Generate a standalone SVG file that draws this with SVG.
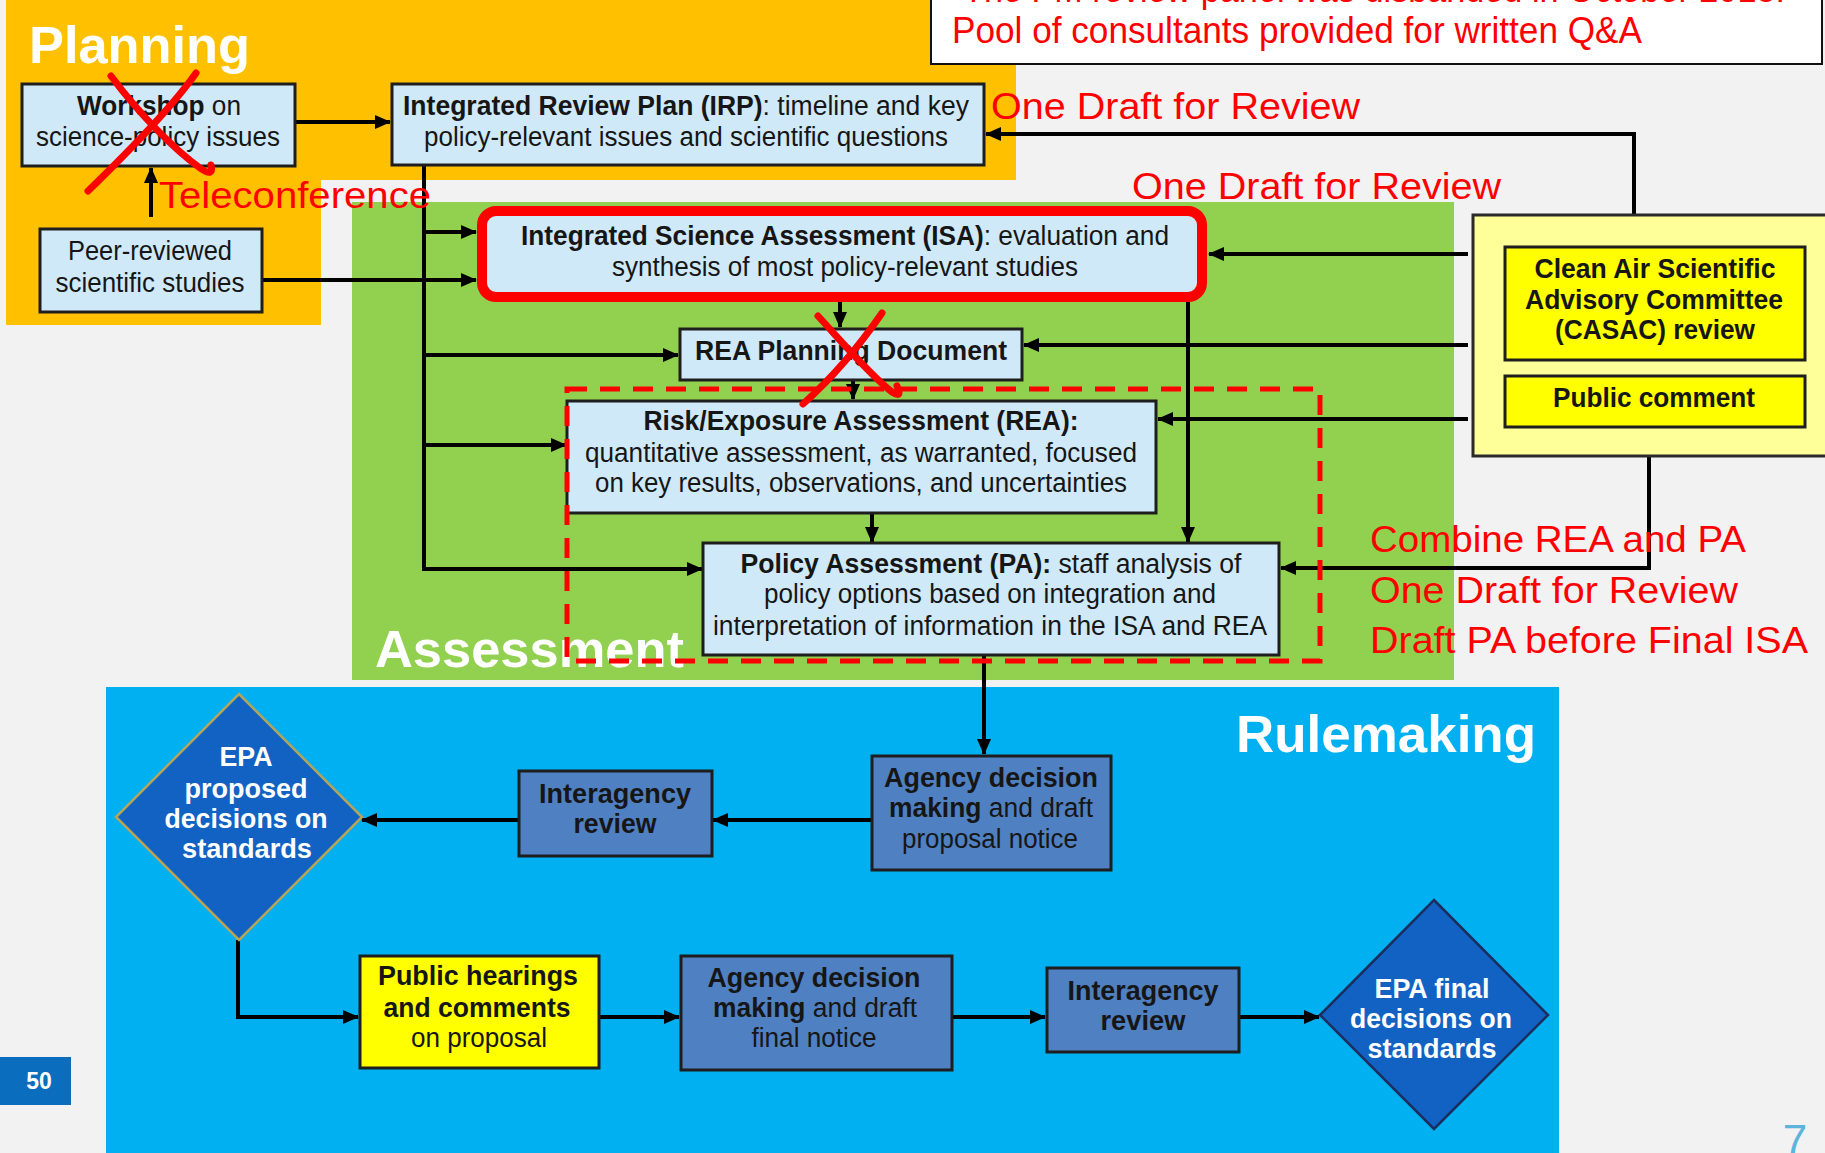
<svg xmlns="http://www.w3.org/2000/svg" width="1825" height="1153" viewBox="0 0 1825 1153">
<defs>
<style>
.box{stroke:#1e1e1e;stroke-width:3}
.lb{fill:#cfe9f8}
.sb{fill:#4f80c2}
.yl{fill:#ffff00}
.t{font-family:"Liberation Sans Narrow","Liberation Sans",Arial,sans-serif;font-size:27px;fill:#161616;text-anchor:middle}
.b{font-weight:bold}
.w{fill:#ffffff}
.hd{font-family:"Liberation Sans",Arial,sans-serif;font-weight:bold;font-size:52px;fill:#ffffff}
.red{font-family:"Liberation Sans",Arial,sans-serif;font-size:37px;fill:#ff0000}
.conn{stroke:#000;stroke-width:4;fill:none}
.x{stroke:#ff0000;stroke-width:7;fill:none;stroke-linecap:round;stroke-linejoin:round}
</style>
<marker id="ah" markerUnits="userSpaceOnUse" markerWidth="16" markerHeight="14" viewBox="0 0 16 14" refX="15" refY="7" orient="auto">
<path d="M0,0 L16,7 L0,14 z" fill="#000"/>
</marker>
</defs>
<rect x="0" y="0" width="1825" height="1153" fill="#f2f2f2"/>

<g id="panels">
<path d="M6,0 H1016 V180 H321 V325 H6 Z" fill="#ffc000"/>
<rect x="352" y="202" width="1102" height="478" fill="#92d050"/>
<rect x="106" y="687" width="1453" height="466" fill="#00b0f0"/>
<text class="hd" x="29" y="63" textLength="221" lengthAdjust="spacingAndGlyphs" fill="#fffaea">Planning</text>
<text class="hd" x="375" y="667" textLength="309" lengthAdjust="spacingAndGlyphs">Assessment</text>
<text class="hd" x="1236" y="752" textLength="300" lengthAdjust="spacingAndGlyphs">Rulemaking</text>
</g>

<g id="note">
<rect x="931" y="-4" width="891" height="68" fill="#ffffff" stroke="#111" stroke-width="2"/>
<text class="red" x="963" y="2" font-size="32" textLength="822" lengthAdjust="spacingAndGlyphs">The PM review panel was disbanded in October 2018.</text>
<text class="red" x="952" y="43" font-size="32" textLength="690" lengthAdjust="spacingAndGlyphs">Pool of consultants provided for written Q&amp;A</text>
</g>

<g id="connectors">
<path class="conn" d="M296,122 H390" marker-end="url(#ah)"/>
<path class="conn" d="M151,217 V168" stroke-width="3" marker-end="url(#ah)"/>
<path class="conn" d="M424,165 V569 H702" marker-end="url(#ah)"/>
<path class="conn" d="M424,232 H476" marker-end="url(#ah)"/>
<path class="conn" d="M262,280 H476" marker-end="url(#ah)"/>
<path class="conn" d="M424,355 H678" marker-end="url(#ah)"/>
<path class="conn" d="M424,445 H566" marker-end="url(#ah)"/>
<path class="conn" d="M840,302 V327" marker-end="url(#ah)"/>
<path class="conn" d="M853,380 V399" marker-end="url(#ah)"/>
<path class="conn" d="M872,513 V542" marker-end="url(#ah)"/>
<path class="conn" d="M1188,302 V542" marker-end="url(#ah)"/>
<path class="conn" d="M1634,215 V134 H986" marker-end="url(#ah)"/>
<path class="conn" d="M1468,254 H1209" marker-end="url(#ah)"/>
<path class="conn" d="M1468,345 H1024" marker-end="url(#ah)"/>
<path class="conn" d="M1468,419 H1158" marker-end="url(#ah)"/>
<path class="conn" d="M1649,456 V568 H1281" marker-end="url(#ah)"/>
<path class="conn" d="M984,655 V754" marker-end="url(#ah)"/>
<path class="conn" d="M872,820 H713" marker-end="url(#ah)"/>
<path class="conn" d="M519,820 H362" marker-end="url(#ah)"/>
<path class="conn" d="M238,940 V1017 H358" marker-end="url(#ah)"/>
<path class="conn" d="M599,1017 H679" marker-end="url(#ah)"/>
<path class="conn" d="M952,1017 H1045" marker-end="url(#ah)"/>
<path class="conn" d="M1239,1017 H1319" marker-end="url(#ah)"/>
</g>

<g id="workshop">
<rect class="box lb" x="22" y="84" width="273" height="82"/>
<text class="t" x="159" y="115" textLength="164" lengthAdjust="spacingAndGlyphs"><tspan class="b">Workshop</tspan> on</text>
<text class="t" x="158" y="146" textLength="244" lengthAdjust="spacingAndGlyphs">science-policy issues</text>
</g>

<g id="irp">
<rect class="box lb" x="392" y="84" width="592" height="81"/>
<text class="t" x="686" y="115" textLength="566" lengthAdjust="spacingAndGlyphs"><tspan class="b">Integrated Review Plan (IRP)</tspan>:  timeline and key</text>
<text class="t" x="686" y="146" textLength="524" lengthAdjust="spacingAndGlyphs">policy-relevant issues and scientific questions</text>
</g>

<g id="peer">
<rect class="box lb" x="40" y="229" width="222" height="83"/>
<text class="t" x="150" y="260" textLength="164" lengthAdjust="spacingAndGlyphs">Peer-reviewed</text>
<text class="t" x="150" y="292" textLength="189" lengthAdjust="spacingAndGlyphs">scientific studies</text>
</g>

<g id="isa">
<rect x="482" y="211" width="720" height="86" rx="14" fill="#cfe9f8" stroke="#ff0000" stroke-width="10"/>
<text class="t" x="845" y="245" textLength="648" lengthAdjust="spacingAndGlyphs"><tspan class="b">Integrated Science Assessment (ISA)</tspan>: evaluation and</text>
<text class="t" x="845" y="276" textLength="466" lengthAdjust="spacingAndGlyphs">synthesis of most policy-relevant studies</text>
</g>

<g id="rea-planning">
<rect class="box lb" x="680" y="329" width="342" height="51"/>
<text class="t b" x="851" y="360" textLength="312" lengthAdjust="spacingAndGlyphs">REA Planning Document</text>
</g>

<g id="rea">
<rect class="box lb" x="567" y="401" width="589" height="112"/>
<text class="t b" x="861" y="430" textLength="435" lengthAdjust="spacingAndGlyphs">Risk/Exposure Assessment (REA):</text>
<text class="t" x="861" y="462" textLength="552" lengthAdjust="spacingAndGlyphs">quantitative assessment, as warranted, focused</text>
<text class="t" x="861" y="492" textLength="532" lengthAdjust="spacingAndGlyphs">on key results, observations, and uncertainties</text>
</g>

<g id="pa">
<rect class="box lb" x="703" y="543" width="576" height="112"/>
<text class="t" x="991" y="573" textLength="501" lengthAdjust="spacingAndGlyphs"><tspan class="b">Policy Assessment (PA):</tspan>  staff analysis of</text>
<text class="t" x="990" y="603" textLength="452" lengthAdjust="spacingAndGlyphs">policy options based on integration and</text>
<text class="t" x="990" y="635" textLength="554" lengthAdjust="spacingAndGlyphs">interpretation of information in the ISA and REA</text>
</g>

<g id="casac-group">
<rect x="1473" y="215" width="360" height="241" fill="#ffff99" stroke="#2a2a2a" stroke-width="3"/>
<g id="casac">
<rect class="box yl" x="1505" y="247" width="300" height="113"/>
<text class="t b" x="1655" y="278" textLength="241" lengthAdjust="spacingAndGlyphs">Clean Air Scientific</text>
<text class="t b" x="1654" y="309" textLength="258" lengthAdjust="spacingAndGlyphs">Advisory Committee</text>
<text class="t b" x="1655" y="339" textLength="200" lengthAdjust="spacingAndGlyphs">(CASAC) review</text>
</g>
<g id="public-comment">
<rect class="box yl" x="1505" y="376" width="300" height="51"/>
<text class="t b" x="1654" y="407" textLength="202" lengthAdjust="spacingAndGlyphs">Public comment</text>
</g>
</g>

<g id="agency-proposal">
<rect class="box sb" x="872" y="756" width="239" height="114"/>
<text class="t b" x="991" y="787" font-size="26" textLength="214" lengthAdjust="spacingAndGlyphs">Agency decision</text>
<text class="t" x="991" y="817" font-size="26" textLength="204" lengthAdjust="spacingAndGlyphs"><tspan class="b">making</tspan> and draft</text>
<text class="t" x="990" y="848" font-size="26" textLength="176" lengthAdjust="spacingAndGlyphs">proposal notice</text>
</g>

<g id="interagency-1">
<rect class="box sb" x="519" y="771" width="193" height="85"/>
<text class="t b" x="615" y="803" font-size="26" textLength="152" lengthAdjust="spacingAndGlyphs">Interagency</text>
<text class="t b" x="615" y="833" font-size="26" textLength="83" lengthAdjust="spacingAndGlyphs">review</text>
</g>

<g id="epa-proposed">
<path d="M239,694 L362,817 L239,940 L116,817 Z" fill="#1262c4" stroke="#b5a55a" stroke-width="2.5"/>
<text class="t b w" x="246" y="766" font-size="26" textLength="53" lengthAdjust="spacingAndGlyphs">EPA</text>
<text class="t b w" x="246" y="798" font-size="26" textLength="123" lengthAdjust="spacingAndGlyphs">proposed</text>
<text class="t b w" x="246" y="828" font-size="26" textLength="163" lengthAdjust="spacingAndGlyphs">decisions on</text>
<text class="t b w" x="247" y="858" font-size="26" textLength="130" lengthAdjust="spacingAndGlyphs">standards</text>
</g>

<g id="public-hearings">
<rect class="box yl" x="360" y="956" width="239" height="112"/>
<text class="t b" x="478" y="985" font-size="26" textLength="200" lengthAdjust="spacingAndGlyphs">Public hearings</text>
<text class="t b" x="477" y="1017" font-size="26" textLength="187" lengthAdjust="spacingAndGlyphs">and comments</text>
<text class="t" x="479" y="1047" font-size="26" textLength="136" lengthAdjust="spacingAndGlyphs">on proposal</text>
</g>

<g id="agency-final">
<rect class="box sb" x="681" y="956" width="271" height="114"/>
<text class="t b" x="814" y="987" font-size="26" textLength="213" lengthAdjust="spacingAndGlyphs">Agency decision</text>
<text class="t" x="815" y="1017" font-size="26" textLength="204" lengthAdjust="spacingAndGlyphs"><tspan class="b">making</tspan> and draft</text>
<text class="t" x="814" y="1047" font-size="26" textLength="125" lengthAdjust="spacingAndGlyphs">final notice</text>
</g>

<g id="interagency-2">
<rect class="box sb" x="1047" y="968" width="192" height="84"/>
<text class="t b" x="1143" y="1000" font-size="26" textLength="151" lengthAdjust="spacingAndGlyphs">Interagency</text>
<text class="t b" x="1143" y="1030" font-size="26" textLength="85" lengthAdjust="spacingAndGlyphs">review</text>
</g>

<g id="epa-final">
<path d="M1434,900 L1548,1015 L1434,1129 L1320,1015 Z" fill="#1262c4" stroke="#1b2d5c" stroke-width="2.5"/>
<text class="t b w" x="1432" y="998" font-size="26" textLength="115" lengthAdjust="spacingAndGlyphs">EPA final</text>
<text class="t b w" x="1431" y="1028" font-size="26" textLength="162" lengthAdjust="spacingAndGlyphs">decisions on</text>
<text class="t b w" x="1432" y="1058" font-size="26" textLength="129" lengthAdjust="spacingAndGlyphs">standards</text>
</g>

<g id="page-marks">
<rect x="0" y="1057" width="71" height="48" fill="#0b6dbd"/>
<text x="39" y="1089" font-family="Liberation Sans, Arial, sans-serif" font-weight="bold" font-size="23" fill="#ffffff" text-anchor="middle">50</text>
<text x="1795" y="1156" font-family="Liberation Sans, Arial, sans-serif" font-size="44" fill="#5bb4dc" text-anchor="middle">7</text>
</g>

<g id="annotations">
<rect x="567" y="389" width="753" height="272" fill="none" stroke="#ff0000" stroke-width="5" stroke-dasharray="20 13"/>
<path class="x" d="M111,76 C140,115 175,150 200,168 Q214,178 211,165"/>
<path class="x" d="M196,73 C170,110 122,158 88,191"/>
<path class="x" d="M818,316 C842,342 870,375 892,392 Q903,399 897,386"/>
<path class="x" d="M882,313 C860,345 832,378 803,404"/>
<text class="red" x="159" y="208" font-size="38" textLength="272" lengthAdjust="spacingAndGlyphs">Teleconference</text>
<text class="red" x="991" y="119" font-size="38" textLength="369" lengthAdjust="spacingAndGlyphs">One Draft for Review</text>
<text class="red" x="1132" y="199" font-size="38" textLength="369" lengthAdjust="spacingAndGlyphs">One Draft for Review</text>
<text class="red" x="1370" y="552" font-size="37" textLength="376" lengthAdjust="spacingAndGlyphs">Combine REA and PA</text>
<text class="red" x="1370" y="603" font-size="37" textLength="368" lengthAdjust="spacingAndGlyphs">One Draft for Review</text>
<text class="red" x="1370" y="653" font-size="37" textLength="438" lengthAdjust="spacingAndGlyphs">Draft PA before Final ISA</text>
</g>
</svg>
